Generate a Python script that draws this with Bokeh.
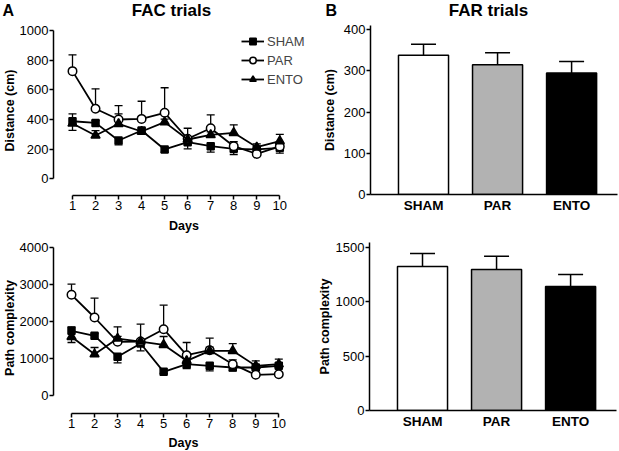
from bokeh.plotting import figure
from bokeh.layouts import column, row
from bokeh.models import (ColumnDataSource, Whisker, TeeHead, Legend, LegendItem,
                          FixedTicker, Range1d, Title)
from bokeh.core.properties import value
from bokeh.embed import file_html
from bokeh.resources import INLINE

# ---------------- data ----------------
days = [1, 2, 3, 4, 5, 6, 7, 8, 9, 10]
groups = ["SHAM", "PAR", "ENTO"]

# FAC trials, distance (cm); error: SEM, sign = drawn above (+) / below (-)
fac_dist_sham = [388, 377, 258, 326, 198, 247, 220, 202, 198, 209]
fac_dist_sham_err = [50, 15, -29, 15, -18, -45, -40, -38, -15, -36]
fac_dist_par = [726, 472, 400, 404, 445, 270, 341, 220, 168, 218]
fac_dist_par_err = [110, 135, 94, 119, 169, 71, 90, 30, 15, 20]
fac_dist_ento = [373, 292, 371, 319, 382, 265, 296, 310, 213, 254]
fac_dist_ento_err = [-47, 33, 67, -20, 20, -30, 20, 54, 23, 45]

# FAC trials, path complexity
fac_pc_sham = [1753, 1618, 1052, 1410, 647, 853, 809, 763, 763, 809]
fac_pc_sham_err = [108, 60, -162, -197, -40, -117, -135, -89, -60, -60]
fac_pc_par = [2724, 2112, 1456, 1464, 1796, 1096, 1231, 853, 566, 583]
fac_pc_par_err = [286, 521, 405, 467, 648, 342, 323, 118, 40, 40]
fac_pc_ento = [1591, 1122, 1545, 1464, 1375, 944, 1213, 1213, 809, 853]
fac_pc_ento_err = [-153, 181, 60, 60, 225, 60, 100, 197, 135, 135]

# FAR trials
far_dist = [338, 315, 295]
far_dist_err = [27, 29, 28]
far_pc = [1323, 1295, 1139]
far_pc_err = [119, 122, 110]

dist_ticks = [0, 200, 400, 600, 800, 1000]
pc_ticks = [0, 1000, 2000, 3000, 4000]
far_dist_ticks = [0, 100, 200, 300, 400]
far_pc_ticks = [0, 500, 1000, 1500]

bar_colors = ["#ffffff", "#b2b2b2", "#000000"]
FONT = "Liberation Sans"


def base_fig(fw, fh, x_range, y_range, ml, mr, mt, mb):
    p = figure(frame_width=fw, frame_height=fh, x_range=x_range, y_range=y_range,
               output_backend="svg", toolbar_location=None, title=None,
               min_border_left=ml, min_border_right=mr, min_border_top=mt,
               min_border_bottom=mb)
    p.outline_line_color = None
    p.xgrid.visible = False
    p.ygrid.visible = False
    p.background_fill_color = "white"
    p.border_fill_color = "white"
    for ax in (p.xaxis[0], p.yaxis[0]):
        ax.axis_line_width = 1.5
        ax.axis_line_color = "black"
        ax.major_tick_line_width = 1.5
        ax.major_tick_out = 4
        ax.major_tick_in = 0
        ax.minor_tick_line_color = None
        ax.major_label_text_font = FONT
        ax.major_label_text_font_size = "13px"
        ax.major_label_text_color = "black"
        ax.major_label_standoff = 1
    return p


def side_title(p, text, where, offset, standoff):
    p.add_layout(Title(text=text, align="center", offset=offset, standoff=standoff,
                       text_font=FONT, text_font_style="bold", text_font_size="12.5px",
                       text_color="black"), where)


def add_series(p, mean, err, marker, fill, size):
    ln = p.line(days, mean, line_color="black", line_width=1.8)
    up = [i for i, e in enumerate(err) if e > 0]
    dn = [i for i, e in enumerate(err) if e < 0]
    if up:
        s = ColumnDataSource(dict(b=[days[i] for i in up], lo=[mean[i] for i in up],
                                  hi=[mean[i] + err[i] for i in up]))
        p.add_layout(Whisker(source=s, base="b", lower="lo", upper="hi",
                             upper_head=TeeHead(size=8, line_width=1.3, line_color="black"),
                             lower_head=None, line_width=1.3, line_color="black"))
    if dn:
        s = ColumnDataSource(dict(b=[days[i] for i in dn], hi=[mean[i] for i in dn],
                                  lo=[mean[i] + err[i] for i in dn]))
        p.add_layout(Whisker(source=s, base="b", lower="lo", upper="hi",
                             lower_head=TeeHead(size=8, line_width=1.3, line_color="black"),
                             upper_head=None, line_width=1.3, line_color="black"))
    sc = p.scatter(days, mean, marker=marker, size=size, fill_color=fill,
                   line_color="black", line_width=1.5)
    return [ln, sc]


def line_panel(ml, fw, fh, xr, yr, yticks, ybound, mt, mb, series):
    p = base_fig(fw, fh, xr, yr, ml, 2, mt, mb)
    p.xaxis[0].ticker = FixedTicker(ticks=days)
    p.xaxis[0].bounds = (1, 10)
    p.yaxis[0].ticker = FixedTicker(ticks=yticks)
    p.yaxis[0].bounds = ybound
    rends = []
    for mean, err, marker, fill, size in series:
        rends.append(add_series(p, mean, err, marker, fill, size))
    return p, rends


def bar_panel(fh, yr, yticks, mt, mb, vals, errs):
    p = base_fig(247, fh, Range1d(0.284, 3.62), yr, 53, 4, mt, mb)
    xs = [1, 2, 3]
    p.vbar(x=xs, top=vals, width=0.676, fill_color=bar_colors,
           line_color="black", line_width=1.5)
    s = ColumnDataSource(dict(b=xs, lo=vals, hi=[v + e for v, e in zip(vals, errs)]))
    p.add_layout(Whisker(source=s, base="b", lower="lo", upper="hi",
                         upper_head=TeeHead(size=25, line_width=1.5, line_color="black"),
                         lower_head=None, line_width=1.5, line_color="black", level="underlay"))
    p.xaxis[0].ticker = FixedTicker(ticks=xs)
    p.xaxis[0].major_label_overrides = {1: groups[0], 2: groups[1], 3: groups[2]}
    p.xaxis[0].major_tick_line_color = None
    p.xaxis[0].major_tick_out = 0
    p.xaxis[0].major_label_text_font_style = "bold"
    p.xaxis[0].major_label_text_font_size = "13.5px"
    p.xaxis[0].major_label_standoff = 3
    p.yaxis[0].ticker = FixedTicker(ticks=yticks)
    return p


# ---- header strip with panel letters and titles ----
hdr = figure(width=619, height=22, x_range=Range1d(0, 619), y_range=Range1d(0, 22),
             x_axis_type=None, y_axis_type=None, output_backend="svg",
             toolbar_location=None, title=None, min_border=0)
hdr.outline_line_color = None
hdr.xgrid.visible = False
hdr.ygrid.visible = False
hdr.text(x=[2, 325], y=[12.5, 12.5], text=["A", "B"], text_font=value(FONT),
         text_font_style="bold", text_font_size="16px", text_align="left",
         text_baseline="middle", text_color="black")
hdr.text(x=[171, 488], y=[12.5, 12.5], text=["FAC trials", "FAR trials"],
         text_font=value(FONT), text_font_style="bold", text_font_size="17px",
         text_align="center", text_baseline="middle", text_color="black")

# ---- top-left: FAC distance ----
tl, tl_r = line_panel(52, 261, 170, Range1d(0.175, 11.507), Range1d(-112.6, 1033.7),
                      dist_ticks, (0, 1000), 3, 41, [
    (fac_dist_sham, fac_dist_sham_err, "square", "black", 7),
    (fac_dist_par, fac_dist_par_err, "circle", "white", 8.5),
    (fac_dist_ento, fac_dist_ento_err, "triangle", "black", 9),
])
leg = Legend(items=[LegendItem(label=g, renderers=r) for g, r in zip(groups, tl_r)],
             location=(188, 107), glyph_width=23, glyph_height=16, label_height=18,
             spacing=1, padding=0, margin=0, label_standoff=3,
             border_line_color=None, background_fill_alpha=0,
             label_text_font=FONT, label_text_font_size="13px")
tl.add_layout(leg, "center")
side_title(tl, "Distance (cm)", "left", 15, 0)
side_title(tl, "Days", "below", -21.5, 8)

# ---- bottom-left: FAC path complexity ----
bl, _ = line_panel(53, 260, 171, Range1d(0.218, 11.507), Range1d(-477.4, 4134.9),
                   pc_ticks, (0, 4000), 4, 40, [
    (fac_pc_sham, fac_pc_sham_err, "square", "black", 7),
    (fac_pc_par, fac_pc_par_err, "circle", "white", 8.5),
    (fac_pc_ento, fac_pc_ento_err, "triangle", "black", 9),
])
side_title(bl, "Path complexity", "left", 14.5, 0)
side_title(bl, "Days", "below", -22, 6)

# ---- top-right: FAR distance ----
tr = bar_panel(169, Range1d(0, 410.4), far_dist_ticks, 3, 42, far_dist, far_dist_err)
side_title(tr, "Distance (cm)", "left", 12.5, 8)

# ---- bottom-right: FAR path complexity ----
br = bar_panel(168, Range1d(0, 1543.2), far_pc_ticks, 6, 41, far_pc, far_pc_err)
side_title(br, "Path complexity", "left", 13, 1)

layout = column(hdr, row(tl, tr), row(bl, br))
open("out.html", "w").write(file_html(layout, INLINE))
